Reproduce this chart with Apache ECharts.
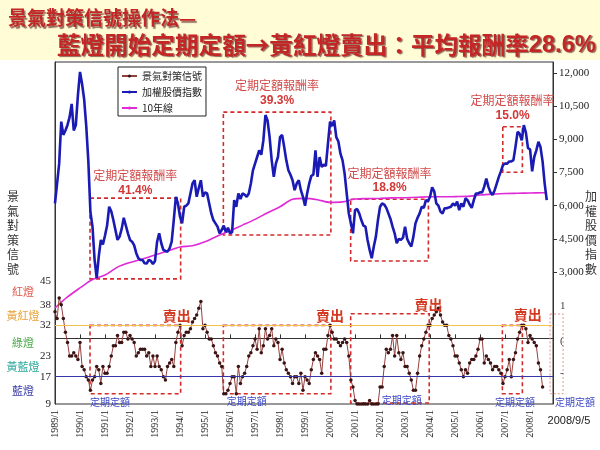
<!DOCTYPE html>
<html>
<head>
<meta charset="utf-8">
<script src="https://cdn.jsdelivr.net/npm/echarts@6/dist/echarts.min.js"></script>
<style>
html, body { margin: 0; padding: 0; background: #fff; }
#main { width: 600px; height: 450px; }
</style>
</head>
<body>
<div id="main"></div>
<script>
// months counted from 1989/1
var startYear = 1989;
var yearMonths = [0, 12, 24, 36, 48, 60, 72, 84, 96, 108, 120, 132, 144, 156, 168, 180, 192, 204, 216, 228];
var signalTicks = [9, 17, 23, 32, 38, 45];
var indexTicks = [3000, 4500, 6000, 7500, 9000, 10500, 12000];

// 景氣對策信號 (monthly score)
var signalScores = [
  36, 34, 40, 38, 34, 30, 27, 23, 23, 24,
  23, 22, 27, 20, 19, 17, 16, 13, 16, 17,
  20, 19, 15, 20, 18, 18, 20, 23, 26, 26,
  29, 27, 27, 30, 30, 28, 29, 28, 27, 23,
  24, 25, 25, 25, 23, 24, 20, 23, 20, 23,
  20, 19, 17, 16, 20, 21, 22, 20, 27, 30,
  32, 26, 29, 30, 30, 31, 33, 34, 35, 37,
  39, 31, 32, 30, 28, 28, 26, 24, 23, 21,
  20, 12, 12, 13, 15, 17, 17, 12, 20, 15,
  17, 18, 20, 23, 24, 26, 28, 25, 31, 24,
  26, 31, 28, 29, 31, 26, 28, 27, 22, 25,
  21, 19, 18, 17, 15, 17, 17, 15, 18, 13,
  17, 16, 15, 19, 22, 24, 23, 22, 18, 25,
  25, 29, 32, 30, 28, 28, 27, 26, 27, 28,
  27, 23, 16, 14, 10, 9, 9, 9, 9, 9,
  9, 10, 9, 9, 9, 9, 14, 14, 20, 25,
  24, 25, 29, 23, 29, 24, 22, 24, 20, 20,
  18, 16, 13, 13, 18, 23, 26, 28, 30, 32,
  32, 34, 35, 36, 37, 35, 33, 32, 32, 29,
  28, 26, 23, 23, 21, 19, 17, 19, 18, 21,
  22, 22, 23, 25, 28, 28, 21, 23, 22, 21,
  19, 20, 20, 19, 18, 15, 17, 19, 22, 17,
  22, 24, 28, 30, 32, 32, 31, 27, 29, 28,
  27, 26, 21, 19, 14
];

// 加權股價指數 (monthly)
var taiex = [
  6100, 7000, 7900, 9800, 9200, 9400, 9650, 10000, 10600, 9400,
  9650, 11000, 12050, 11500, 10800, 9600, 8000, 5700, 5050, 3550,
  2720, 3700, 4450, 4250, 4650, 5100, 5950, 5750, 5350, 4900,
  4450, 4600, 4950, 5450, 5100, 4750, 4450, 4370, 4200, 3850,
  3620, 3540, 3540, 3400, 3380, 3550, 3500, 3360, 3500, 4370,
  4750, 4300, 4000, 3950, 3920, 4070, 4370, 5350, 6400, 6100,
  5500, 5200, 5950, 6000, 6100, 6550, 7000, 7150, 6400, 6800,
  7150, 6400, 6600, 6550, 6100, 5650, 5350, 5200, 5050, 4750,
  4900, 5100, 4800, 5000, 4750, 4800, 6250, 5950, 6550, 6300,
  6550, 6500, 6400, 6550, 7000, 7600, 7900, 8200, 8500, 8300,
  8950, 10100, 9850, 9100, 8050, 7300, 7900, 8200, 9100, 9200,
  8650, 8050, 7600, 7400, 7150, 6700, 7000, 7150, 6700, 6400,
  6000, 6550, 7000, 7350, 7400, 8500, 7300, 8200, 7750, 7850,
  7800, 8800, 9800, 9600, 9850, 9100, 8900, 8350, 8050, 7450,
  6550, 5650, 5200, 4750, 5800, 5850, 5650, 5350, 5100, 5050,
  4450, 4000, 3620, 4150, 4600, 5350, 5950, 6100, 6050, 5900,
  5650, 5400, 5050, 4750, 4300, 4500, 4450, 4550, 5050, 4500,
  4300, 4150, 4600, 5200, 5450, 5650, 5950, 5900, 6250, 6200,
  6400, 6830, 6650, 6100, 6000, 5730, 5650, 5880, 5880, 5920,
  5950, 6100, 6000, 6180, 5800, 6100, 5950, 6330, 6250, 6050,
  5900, 6250, 6550, 6550, 6600, 6600, 6860, 7230, 6850, 6600,
  6480, 6700, 7000, 7300, 7550, 7840, 7900, 7900, 8000, 8000,
  8060, 8660, 9340, 9250, 8950, 9640, 9300, 8600, 8550, 7550,
  8200, 8500, 8890, 8650, 8000, 7000, 6250
];

// 10年線 (read every 6 months)
var ma10Months = [0, 6, 12, 18, 24, 30, 36, 42, 48, 54, 60, 66, 72, 78, 84, 90, 96, 102, 108, 114,
  120, 126, 132, 138, 144, 150, 156, 162, 168, 174, 180, 186, 192, 198, 204, 210, 216, 222, 228, 234, 236];
var ma10Values = [1370, 1870, 2280, 2660, 2860, 3220, 3430, 3590, 3770, 3950,
  4130, 4190, 4370, 4630, 4870, 5120, 5380, 5680, 5950, 6290,
  6330, 6270, 6150, 6170, 6300, 6320, 6330, 6350, 6360, 6380,
  6400, 6400, 6410, 6420, 6480, 6520, 6550, 6560, 6570, 6585, 6590];

// 標註: [起月, 迄月, 下緣, 上緣, 報酬率]
var upperBoxes = [
  [16.8, 60.3, 2690, 6340, '41.4%'],
  [80.8, 132.4, 4670, 10230, '39.3%'],
  [141.9, 179.2, 3500, 6290, '18.8%'],
  [214.9, 224.3, 7510, 9570, '15.0%']
];
var lowerBoxes = [
  [16.8, 60.3, 12, 32],
  [80.8, 132.4, 12, 32],
  [141.9, 179.6, 9.3, 35.4],
  [214.7, 224.3, 12, 32]
];
var sellMarks = [[58.4, 34.9], [132, 34.9], [179.2, 38.1], [226.9, 35.2]];
var dcaMarks = [[26.4, 9.4], [92, 9.7], [166.4, 10], [220.8, 9.4]];
var lightNames = ['紅燈', '黃紅燈', '綠燈', '黃藍燈', '藍燈'];
var lightLevels = [41.8, 34.7, 26.8, 19.8, 13];
var lightColors = ['#e0584a', '#e8a038', '#4aa84a', '#2aa89a', '#3a3aa8'];

var serif = '"Liberation Serif", "DejaVu Serif", serif';
var cjk = '"Noto Sans CJK TC", "Noto Sans CJK SC", sans-serif';

var chart = echarts.init(document.getElementById('main'));

var option = {
  backgroundColor: '#fff',
  animation: false,
  legend: {
    data: ['景氣對策信號', '加權股價指數', '10年線'],
    orient: 'vertical',
    left: 118,
    top: 67,
    itemWidth: 15,
    itemHeight: 4,
    itemGap: 4,
    padding: [3, 4, 2, 3],
    borderColor: '#222',
    borderWidth: 1,
    backgroundColor: '#fff',
    selectedMode: false,
    textStyle: { fontFamily: cjk, fontSize: 10, color: '#222', lineHeight: 12 }
  },
  grid: {
    left: 55, right: 47, top: 62, bottom: 46,
    show: true, borderColor: '#333', borderWidth: 1, backgroundColor: '#fff'
  },
  xAxis: {
    type: 'value',
    min: 0,
    max: 239,
    axisLine: { lineStyle: { color: '#333' } },
    axisTick: { inside: true, length: 4, customValues: yearMonths, lineStyle: { color: '#333' } },
    axisLabel: {
      customValues: yearMonths,
      rotate: 90,
      margin: 6,
      fontFamily: serif,
      fontSize: 10,
      color: '#222',
      formatter: function (v) { return (startYear + Math.round(v / 12)) + '/1'; }
    },
    splitLine: { show: false }
  },
  yAxis: [
    {
      type: 'value',
      position: 'left',
      min: 9,
      max: 109,
      axisLine: { show: true, lineStyle: { color: '#333' } },
      axisTick: { show: false },
      axisLabel: { customValues: signalTicks, margin: 4, fontFamily: serif, fontSize: 11, color: '#222' },
      splitLine: { show: false }
    },
    {
      type: 'value',
      position: 'right',
      min: -2970,
      max: 12497,
      axisLine: { show: true, lineStyle: { color: '#333' } },
      axisTick: { show: true, length: 4, customValues: indexTicks, lineStyle: { color: '#333' } },
      axisLabel: { customValues: indexTicks, margin: 6, fontFamily: serif, fontSize: 11, color: '#222' },
      splitLine: { show: false }
    }
  ],
  series: [
    {
      name: '10年線',
      type: 'line',
      yAxisIndex: 1,
      z: 2,
      symbol: 'none',
      smooth: 0.3,
      lineStyle: { color: '#e02ad6', width: 1.6 },
      itemStyle: { color: '#e02ad6' },
      data: ma10Months.map(function (m, i) { return [m, ma10Values[i]]; })
    },
    {
      name: '加權股價指數',
      type: 'line',
      yAxisIndex: 1,
      z: 3,
      symbol: 'none',
      lineStyle: { color: '#1a1ab4', width: 2.6 },
      itemStyle: { color: '#1a1ab4' },
      data: taiex.map(function (v, i) { return [i, v]; }),
      markArea: {
        silent: true,
        itemStyle: { color: 'rgba(0,0,0,0)', borderColor: '#d42a2a', borderWidth: 1.6, borderType: [4, 3] },
        label: {
          show: true,
          position: 'top',
          distance: 3,
          formatter: function (p) { return '{t|定期定額報酬率}\n{p|' + p.name + '}'; },
          rich: {
            t: { fontFamily: cjk, fontSize: 12, color: '#d24a4a', lineHeight: 15, align: 'center' },
            p: { fontFamily: '"Liberation Sans", Arial, sans-serif', fontWeight: 'bold', fontSize: 12, color: '#d23636', lineHeight: 15, align: 'center' }
          }
        },
        data: upperBoxes.map(function (b, i) {
          return [
            { xAxis: b[0], yAxis: b[3], name: b[4], label: { distance: i === 0 ? -1 : 3 } },
            { xAxis: b[1], yAxis: b[2] }
          ];
        })
      }
    },
    {
      name: '景氣對策信號',
      type: 'line',
      yAxisIndex: 0,
      z: 4,
      symbol: 'circle',
      symbolSize: 3.5,
      showSymbol: true,
      lineStyle: { color: '#94403e', width: 1 },
      itemStyle: { color: '#3a1414' },
      data: signalScores.map(function (v, i) { return [i, v]; }),
      markLine: {
        silent: true,
        symbol: ['none', 'none'],
        label: { show: false },
        data: [
          { yAxis: 32, lineStyle: { color: '#f1c34a', width: 1, type: 'solid' } },
          { yAxis: 17, lineStyle: { color: '#3636a8', width: 1, type: 'solid' } }
        ]
      },
      markArea: {
        silent: true,
        itemStyle: { color: 'rgba(0,0,0,0)', borderColor: '#d42a2a', borderWidth: 1.6, borderType: [4, 3] },
        label: { show: false },
        data: lowerBoxes.map(function (b) {
          return [{ xAxis: b[0], yAxis: b[3] }, { xAxis: b[1], yAxis: b[2] }];
        })
      },
      markPoint: {
        silent: true,
        symbol: 'circle',
        symbolSize: 1,
        itemStyle: { color: 'rgba(0,0,0,0)' },
        data: sellMarks.map(function (p) {
          return {
            coord: p,
            label: { show: true, position: 'inside', formatter: '賣出', fontFamily: cjk, fontWeight: 'bold', fontSize: 14, color: '#d43a22' }
          };
        }).concat(dcaMarks.map(function (p) {
          return {
            coord: p,
            label: { show: true, position: 'inside', formatter: '定期定額', fontFamily: cjk, fontSize: 10, color: '#3a46c6' }
          };
        }))
      }
    }
  ]
};

chart.setOption(option);

// 圖外的文字與裝飾
function toPx(m, v) { return chart.convertToPixel({ seriesIndex: 2 }, [m, v]); }
function toY(v) { return chart.convertToPixel({ yAxisIndex: 0 }, v); }

var titleShadow = { textShadowColor: 'rgba(70,10,10,0.6)', textShadowBlur: 1, textShadowOffsetX: 1.5, textShadowOffsetY: 1.5 };
var graphics = [
  { type: 'rect', shape: { x: 0, y: 0, width: 600, height: 60 }, style: { fill: '#fffcd6' }, z: 0 },
  {
    type: 'text', z: 10,
    style: Object.assign({
      text: '景氣對策信號操作法—', x: 8, y: 18, verticalAlign: 'middle',
      font: 'bold 19px ' + cjk, fill: '#c42626'
    }, titleShadow)
  },
  {
    type: 'text', z: 10,
    style: Object.assign({
      text: '{a|藍燈開始定期定額→黃紅燈賣出：平均報酬率}{b|28.6%}', x: 57, y: 45, verticalAlign: 'middle',
      rich: {
        a: Object.assign({ fontFamily: cjk, fontWeight: 'bold', fontSize: 23.6, fill: '#c42626' }, titleShadow),
        b: Object.assign({ fontFamily: '"Liberation Sans", Arial, sans-serif', fontWeight: 'bold', fontSize: 23.6, fill: '#c42626' }, titleShadow)
      }
    }, titleShadow)
  },
  {
    type: 'text', z: 10,
    style: { text: '景\n氣\n對\n策\n信\n號', x: 13, y: 233, align: 'center', verticalAlign: 'middle', fontFamily: cjk, fontSize: 12, lineHeight: 14.5, fill: '#333' }
  },
  {
    type: 'text', z: 10,
    style: { text: '加\n權\n股\n價\n指\n數', x: 591, y: 233, align: 'center', verticalAlign: 'middle', fontFamily: cjk, fontSize: 12, lineHeight: 14.5, fill: '#333' }
  },
  {
    type: 'text', z: 10,
    style: { text: '2008/9/5', x: 569, y: 421, align: 'center', verticalAlign: 'middle', fontFamily: '"Liberation Sans", Arial, sans-serif', fontSize: 11, fill: '#222' }
  }
];

lightNames.forEach(function (name, i) {
  graphics.push({
    type: 'text', z: 10,
    style: { text: name, x: 23, y: toY(lightLevels[i]), align: 'center', verticalAlign: 'middle', fontFamily: cjk, fontSize: 11, fill: lightColors[i] }
  });
});

// right edge leftovers of the original
var boxTop = toPx(237.6, 35.3);
var boxBottom = toPx(237.6, 12);
graphics.push({
  type: 'rect', z: 10,
  shape: { x: boxTop[0], y: boxTop[1], width: 13, height: boxBottom[1] - boxTop[1] },
  style: { fill: 'none', stroke: '#e49090', lineWidth: 1, lineDash: [2, 2] }
});
var lastDca = toPx(249.5, 9.4);
graphics.push({
  type: 'text', z: 10,
  style: { text: '定期定額', x: lastDca[0], y: lastDca[1], align: 'center', verticalAlign: 'middle', fontFamily: cjk, fontSize: 10, fill: '#3a46c6' }
});
[['1', 37.7], ['(', 27.4], ['-', 18]].forEach(function (g) {
  graphics.push({
    type: 'text', z: 10,
    style: { text: g[0], x: 560, y: toY(g[1]), verticalAlign: 'middle', fontFamily: serif, fontSize: 11, fill: '#444' }
  });
});

chart.setOption({ graphic: graphics });
</script>
</body>
</html>
